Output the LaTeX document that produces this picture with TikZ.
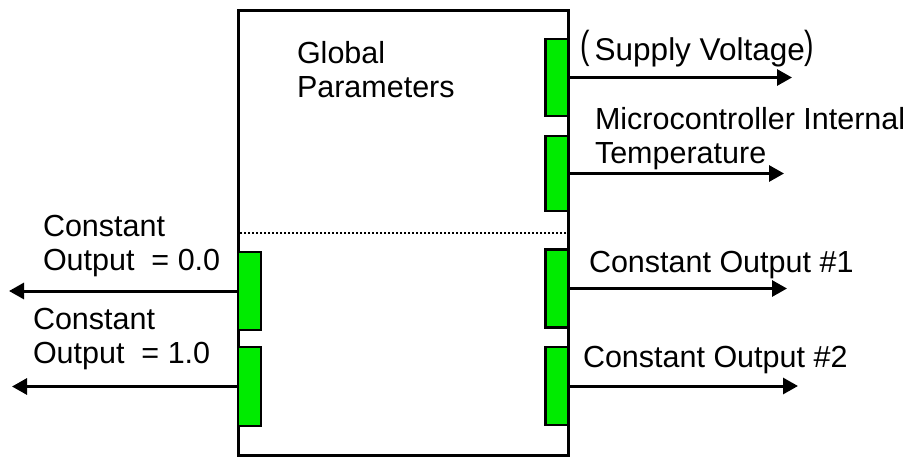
\documentclass[tikz,border=0pt]{standalone}
\usepackage{fontspec}
\setmainfont{Liberation Sans}
\usetikzlibrary{arrows.meta}
\definecolor{portgreen}{RGB}{0,235,0}
\newcommand{\tallparen}[1]{\raisebox{2pt}{\scalebox{0.9}[1.24]{#1}}}
\tikzset{
  frame/.style={draw, line width=3pt, inner sep=0pt, outer sep=0pt},
  port/.style={draw, line width=2.6pt, fill=portgreen, inner sep=0pt, outer sep=0pt, minimum width=23pt},
  lbl/.style={anchor=base west, inner sep=0pt, outer sep=0pt, font=\fontsize{30.5}{34}\selectfont},
  sig/.style={line width=3pt, -{Triangle[length=15pt,width=16pt]}},
  divider/.style={line width=1.6pt, dash pattern=on 1.6pt off 2.4pt}
}
\begin{document}
\begin{tikzpicture}[x=1pt,y=-1pt]
\useasboundingbox (0,0) rectangle (907,458);
% main block
\node[frame, minimum width=330pt, minimum height=445pt] (box) at (403,232.5) {};
\coordinate (dl) at (240,233);
\coordinate (dr) at (566,233);
\draw[divider] (dl) -- (dr);
% right ports
\node[port, minimum height=77pt] (g1) at (557,77.5) {};
\node[port, minimum height=75pt] (g2) at (557,173.5) {};
\node[port, minimum height=78pt] (g3) at (557,288.5) {};
\node[port, minimum height=78pt] (g4) at (557,386) {};
% left ports
\node[port, minimum height=78pt] (l1) at (249.5,291) {};
\node[port, minimum height=79pt] (l2) at (249.5,386.5) {};
% arrow tips
\coordinate (t1) at (792,77.5);
\coordinate (t2) at (784,173.5);
\coordinate (t3) at (787,288.5);
\coordinate (t4) at (798,386);
\coordinate (tl1) at (9,291);
\coordinate (tl2) at (12,386.5);
\draw[sig] (g1.east) -- (t1);
\draw[sig] (g2.east) -- (t2);
\draw[sig] (g3.east) -- (t3);
\draw[sig] (g4.east) -- (t4);
\draw[sig] (l1.west) -- (tl1);
\draw[sig] (l2.west) -- (tl2);
% labels
\node[lbl] (gp1) at (297,63) {Global};
\node[lbl] (gp2) at (297,97) {Parameters};
\node[lbl, font=\fontsize{31.5}{34}\selectfont] (sv) at (580,60) {\tallparen{(}\,Supply Voltage\tallparen{)}};
\node[lbl] (mt1) at (595,129) {Microcontroller Internal};
\node[lbl] (mt2) at (595,163) {Temperature};
\node[lbl] (co1) at (589,272) {Constant Output \#1};
\node[lbl] (co2) at (583,367) {Constant Output \#2};
\node[lbl] (cz1) at (43,236) {Constant};
\node[lbl] (cz2) at (43,270) {Output\ \ = 0.0};
\node[lbl] (cu1) at (33,329) {Constant};
\node[lbl] (cu2) at (33,363) {Output\ \ = 1.0};
\end{tikzpicture}
\end{document}
